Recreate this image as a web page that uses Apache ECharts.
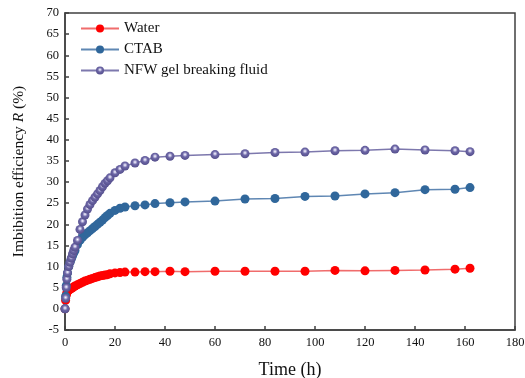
<!DOCTYPE html>
<html><head><meta charset="utf-8">
<script src="https://cdn.jsdelivr.net/npm/echarts@6/dist/echarts.min.js"></script>
<style>html,body{margin:0;padding:0;background:#fff}#c{width:525px;height:378px}</style>
</head><body><div id="c"></div>
<script>
const time = [0,0.25,0.5,0.75,1,1.5,2,2.5,3,3.5,4,5,6,7,8,9,10,11,12,13,14,15,16,17,18,20,22,24,28,32,36,42,48,60,72,84,96,108,120,132,144,156,162];
const water = [0,2,3.2,3.8,4.1,4.4,4.6,4.8,5,5.2,5.4,5.7,6,6.3,6.6,6.8,7.0,7.2,7.4,7.6,7.8,7.9,8.0,8.1,8.3,8.5,8.6,8.7,8.7,8.8,8.8,8.9,8.8,8.9,8.9,8.9,8.9,9.1,9.0,9.1,9.2,9.4,9.6];
const ctab = [0,3,5.5,7.5,8.5,10,11,11.8,12.5,13.2,13.8,15.2,16.2,16.9,17.5,18,18.5,19,19.5,20,20.5,21,21.6,22.1,22.6,23.3,23.8,24.1,24.4,24.6,24.9,25.1,25.3,25.5,26,26.1,26.6,26.7,27.2,27.5,28.2,28.3,28.7];
const nfw = [0,2.5,5,7,8.5,10,11,12,13,13.8,14.6,16.2,18.8,20.6,22.2,23.6,24.7,25.6,26.4,27.2,28,28.9,29.7,30.3,31,32.2,33,33.8,34.5,35.1,35.9,36.1,36.3,36.5,36.7,37,37.1,37.4,37.5,37.8,37.6,37.4,37.2];
const xTicks = {min:0, max:180, interval:20};
const yTicks = {min:-5, max:70, interval:5};

const pair = arr => time.map((t,i)=>[t,arr[i]]);
const font = '"Liberation Serif", "Times New Roman", serif';
const axisCol = '#404040';
const chart = echarts.init(document.getElementById('c'));
chart.setOption({
  backgroundColor:'#fff',
  animation:false,
  textStyle:{fontFamily:font},
  grid:{left:65,right:10,top:13,bottom:48,show:true,borderColor:axisCol,borderWidth:1.5,backgroundColor:'transparent',outerBoundsMode:'none',containLabel:false},
  legend:{
    left:75, top:16, orient:'vertical', itemWidth:38, itemHeight:10, itemGap:6,
    textStyle:{fontFamily:font,fontSize:15,color:'#111'},
    data:['Water','CTAB','NFW gel breaking fluid']
  },
  xAxis:{
    type:'value', min:xTicks.min, max:xTicks.max, interval:xTicks.interval,
    name:'Time (h)', nameLocation:'middle', nameGap:31,
    nameTextStyle:{fontFamily:font,fontSize:18,color:'#111'},
    axisLine:{onZero:false,lineStyle:{color:axisCol,width:1.5}},
    axisTick:{inside:true,length:4,lineStyle:{color:axisCol,width:1.5}},
    axisLabel:{fontFamily:font,fontSize:12.5,color:'#111',margin:6},
    splitLine:{show:false}
  },
  yAxis:{
    type:'value', min:yTicks.min, max:yTicks.max, interval:yTicks.interval,
    name:'{a|Imbibition efficiency }{b|R}{a| (%)}', nameLocation:'middle', nameGap:38,
    nameTextStyle:{fontFamily:font,fontSize:15.5,color:'#111',
      rich:{a:{fontFamily:font,fontSize:15.5,color:'#111'},b:{fontFamily:font,fontSize:15.5,fontStyle:'italic',color:'#111'}}},
    axisLine:{show:true,onZero:false,lineStyle:{color:axisCol,width:1.5}},
    axisTick:{show:true,inside:true,length:4,lineStyle:{color:axisCol,width:1.5}},
    axisLabel:{fontFamily:font,fontSize:12.5,color:'#111',margin:6},
    splitLine:{show:false}
  },
  series:[
    {name:'Water',type:'line',data:pair(water),symbol:'circle',symbolSize:9,
      itemStyle:{color:'#ff0000'},lineStyle:{color:'#f06c6c',width:1.5}},
    {name:'CTAB',type:'line',data:pair(ctab),symbol:'circle',symbolSize:9,
      itemStyle:{color:'#30679b'},lineStyle:{color:'#5f87b3',width:1.5}},
    {name:'NFW gel breaking fluid',type:'line',data:pair(nfw),symbol:'circle',symbolSize:9,
      itemStyle:{color:{type:'radial',x:0.5,y:0.4,r:0.55,colorStops:[{offset:0,color:'#ffffff'},{offset:0.22,color:'#c0bce0'},{offset:0.5,color:'#6d67a6'},{offset:1,color:'#57518f'}]}},
      lineStyle:{color:'#7d78ad',width:1.5}}
  ]
});
</script></body></html>
